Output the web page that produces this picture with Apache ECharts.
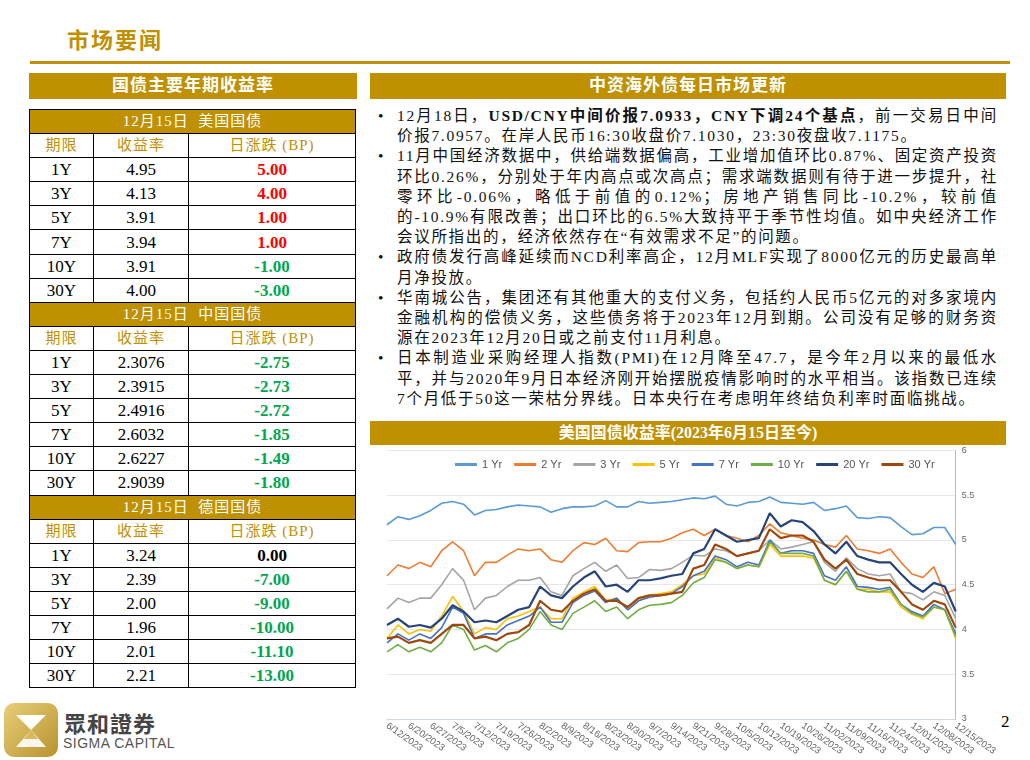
<!DOCTYPE html>
<html><head><meta charset="utf-8">
<script src="https://cdn.jsdelivr.net/npm/echarts@6/dist/echarts.min.js"></script>
<style>
body{margin:0;width:1030px;height:760px;background:#fff;position:relative;overflow:hidden;font-family:"Liberation Serif","Noto Sans CJK SC",serif;}
.abs{position:absolute;}
.gold{background:#BF9000;color:#fff;font-weight:bold;text-align:center;}
table{border-collapse:collapse;position:absolute;left:29px;top:109px;width:327px;}
tr{height:24.1px;}
td{border:1.5px solid #000;padding:0;text-align:center;font-size:17px;line-height:21px;}
td.sub{background:#BF9000;color:#fff;font-size:15px;letter-spacing:1px;}
tr.hd td{color:#BF9000;font-size:15px;letter-spacing:1px;}
.r{color:#f00;font-weight:bold;}
.g{color:#00A64F;font-weight:bold;}
.k{font-weight:bold;}
ul{margin:0;padding:0;list-style:none;}
li{position:relative;padding-left:25px;}
li:before{content:"•";position:absolute;left:6px;}
.num{letter-spacing:0;}
</style></head><body>
<div class="abs" style="left:67px;top:22px;font-size:22px;font-weight:bold;color:#BF9000;letter-spacing:2px;">市场要闻</div>
<div class="abs" style="left:30px;top:61px;width:980px;height:3px;background:#BF9000;"></div>
<div class="abs gold" style="left:29px;top:73px;width:328px;height:26px;line-height:26px;font-size:17px;letter-spacing:1px;">国债主要年期收益率</div>
<div class="abs gold" style="left:370px;top:73px;width:636px;height:26px;line-height:26px;font-size:17px;letter-spacing:1px;">中资海外债每日市场更新</div>
<div id="tbl"></div>
<div class="abs" style="left:372px;top:106px;width:626px;font-size:15.5px;line-height:20.2px;color:#111;text-align:justify;letter-spacing:1.7px;">
<ul>
<li>12月18日，<b>USD/CNY中间价报7.0933，CNY下调24个基点</b>，前一交易日中间价报7.0957。在岸人民币16:30收盘价7.1030，23:30夜盘收7.1175。</li>
<li>11月中国经济数据中，供给端数据偏高，工业增加值环比0.87%、固定资产投资环比0.26%，分别处于年内高点或次高点；需求端数据则有待于进一步提升，社零环比-0.06%，略低于前值的0.12%；房地产销售同比-10.2%，较前值的-10.9%有限改善；出口环比的6.5%大致持平于季节性均值。如中央经济工作会议所指出的，经济依然存在“有效需求不足”的问题。</li>
<li>政府债发行高峰延续而NCD利率高企，12月MLF实现了8000亿元的历史最高单月净投放。</li>
<li>华南城公告，集团还有其他重大的支付义务，包括约人民币5亿元的对多家境内金融机构的偿债义务，这些债务将于2023年12月到期。公司没有足够的财务资源在2023年12月20日或之前支付11月利息。</li>
<li>日本制造业采购经理人指数(PMI)在12月降至47.7，是今年2月以来的最低水平，并与2020年9月日本经济刚开始摆脱疫情影响时的水平相当。该指数已连续7个月低于50这一荣枯分界线。日本央行在考虑明年终结负利率时面临挑战。</li>
</ul></div>
<div class="abs gold" style="left:370px;top:421px;width:636px;height:24px;line-height:24px;font-size:16px;">美国国债收益率(2023年6月15日至今)</div>
<div id="chart" class="abs" style="left:380px;top:446px;width:620px;height:312px;"></div>
<div class="abs" style="left:1001px;top:712px;font-size:17px;">2</div>
<div class="abs" style="left:4px;top:703px;width:54px;height:54px;border-radius:10px;background:linear-gradient(135deg,#E8CF7A,#B8922E);"></div>
<svg class="abs" style="left:4px;top:703px" width="54" height="54"><polygon points="12,12 42,12 27,27" fill="#fff"/><polygon points="27,27 12,44 42,44" fill="#fff" opacity="0.9"/><polygon points="27,27 20,36 34,36" fill="#D9B95A"/></svg>
<div class="abs" style="left:64px;top:706px;font-size:22px;font-weight:bold;color:#444;font-family:'Noto Sans CJK TC';letter-spacing:1px;">眾和證券</div>
<div class="abs" style="left:63px;top:735px;font-size:14px;color:#555;font-family:'Liberation Sans';letter-spacing:0.5px;">SIGMA CAPITAL</div>
<script>
const tenors=["1Y","3Y","5Y","7Y","10Y","30Y"];
const usYield=["4.95","4.13","3.91","3.94","3.91","4.00"];
const usChg=["5.00","4.00","1.00","1.00","-1.00","-3.00"];
const cnYield=["2.3076","2.3915","2.4916","2.6032","2.6227","2.9039"];
const cnChg=["-2.75","-2.73","-2.72","-1.85","-1.49","-1.80"];
const deYield=["3.24","2.39","2.00","1.96","2.01","2.21"];
const deChg=["0.00","-7.00","-9.00","-10.00","-11.10","-13.00"];
function cls(v){const n=parseFloat(v);return n>0?"r":(n<0?"g":"k");}
function sec(title,y,c){let h=`<tr><td colspan="3" class="sub">${title}</td></tr><tr class="hd"><td>期限</td><td>收益率</td><td>日涨跌 (BP)</td></tr>`;
tenors.forEach((t,i)=>{h+=`<tr><td>${t}</td><td>${y[i]}</td><td class="${cls(c[i])}">${c[i]}</td></tr>`;});return h;}
document.getElementById("tbl").innerHTML="<table>"+sec("12月15日&nbsp;&nbsp;美国国债",usYield,usChg)+sec("12月15日&nbsp;&nbsp;中国国债",cnYield,cnChg)+sec("12月15日&nbsp;&nbsp;德国国债",deYield,deChg)+"</table>";

const labelDates=["6/12/2023","6/20/2023","6/27/2023","7/5/2023","7/12/2023","7/19/2023","7/26/2023","8/2/2023","8/9/2023","8/16/2023","8/23/2023","8/30/2023","9/7/2023","9/14/2023","9/21/2023","9/28/2023","10/5/2023","10/12/2023","10/19/2023","10/26/2023","11/02/2023","11/09/2023","11/16/2023","11/24/2023","12/01/2023","12/08/2023","12/15/2023"];
const dates=[];labelDates.forEach((d,i)=>{dates.push(d);if(i<labelDates.length-1)dates.push(d+" ");});
const names=["1 Yr","2 Yr","3 Yr","5 Yr","7 Yr","10 Yr","20 Yr","30 Yr"];
const colors=["#5B9BD5","#ED7D31","#A5A5A5","#FFC000","#4472C4","#70AD47","#264478","#9E480E"];
const y1=[5.17,5.26,5.23,5.27,5.33,5.41,5.43,5.40,5.28,5.33,5.34,5.37,5.39,5.38,5.37,5.31,5.35,5.37,5.37,5.38,5.44,5.37,5.37,5.43,5.41,5.42,5.43,5.45,5.47,5.46,5.49,5.40,5.38,5.42,5.43,5.48,5.42,5.41,5.40,5.42,5.33,5.35,5.38,5.25,5.24,5.26,5.25,5.15,5.06,5.07,5.14,5.14,4.95];
const y2=[4.60,4.72,4.68,4.75,4.70,4.88,4.98,4.88,4.60,4.75,4.75,4.83,4.90,4.88,4.90,4.78,4.75,4.88,4.97,4.95,5.02,4.88,4.87,4.97,4.98,4.98,5.02,5.08,5.12,5.05,5.12,5.05,5.02,4.98,5.05,5.18,5.08,5.05,5.02,5.00,4.95,4.92,5.05,4.90,4.88,4.85,4.90,4.75,4.62,4.58,4.70,4.40,4.45];
const y3=[4.23,4.35,4.30,4.35,4.35,4.50,4.68,4.55,4.22,4.35,4.38,4.48,4.55,4.55,4.58,4.42,4.38,4.60,4.68,4.75,4.65,4.72,4.57,4.58,4.67,4.66,4.68,4.75,4.83,4.82,4.90,4.88,4.82,4.85,4.88,5.00,4.90,4.92,4.95,4.98,4.75,4.65,4.80,4.68,4.62,4.60,4.62,4.42,4.40,4.33,4.42,4.38,4.12];
const y5=[3.90,4.05,3.95,4.00,3.98,4.15,4.37,4.20,3.95,4.02,4.00,4.12,4.15,4.20,4.25,4.12,4.12,4.35,4.42,4.48,4.32,4.35,4.22,4.32,4.38,4.40,4.42,4.50,4.60,4.62,4.80,4.75,4.68,4.72,4.70,4.95,4.82,4.82,4.82,4.80,4.55,4.50,4.65,4.45,4.45,4.42,4.42,4.25,4.17,4.12,4.25,4.22,3.90];
const y7=[3.85,3.95,3.88,3.95,3.90,4.02,4.25,4.18,3.90,3.95,3.95,4.05,4.10,4.15,4.25,4.08,4.08,4.30,4.38,4.43,4.30,4.35,4.22,4.32,4.36,4.38,4.40,4.48,4.60,4.65,4.82,4.78,4.70,4.75,4.72,5.00,4.85,4.88,4.88,4.85,4.60,4.55,4.70,4.48,4.47,4.45,4.47,4.28,4.20,4.15,4.28,4.22,3.95];
const y10=[3.75,3.83,3.75,3.80,3.75,3.85,4.05,4.00,3.77,3.82,3.75,3.85,3.90,4.00,4.20,4.05,4.00,4.18,4.25,4.32,4.20,4.25,4.12,4.22,4.27,4.28,4.30,4.38,4.52,4.58,4.78,4.75,4.68,4.72,4.70,4.98,4.85,4.85,4.85,4.82,4.55,4.50,4.65,4.45,4.42,4.42,4.45,4.28,4.18,4.14,4.25,4.22,3.92];
const y20=[4.05,4.12,4.03,4.05,4.02,4.12,4.27,4.20,4.08,4.10,4.08,4.15,4.22,4.25,4.48,4.38,4.35,4.48,4.58,4.65,4.48,4.50,4.42,4.55,4.55,4.57,4.60,4.62,4.85,4.90,5.12,5.05,4.98,5.00,5.02,5.30,5.15,5.22,5.20,5.10,4.95,4.85,4.98,4.82,4.78,4.75,4.75,4.62,4.50,4.42,4.52,4.48,4.20];
const y30=[3.90,3.92,3.85,3.88,3.85,3.95,4.05,4.05,3.90,3.92,3.88,3.95,3.97,4.05,4.32,4.22,4.20,4.32,4.40,4.45,4.32,4.32,4.25,4.35,4.38,4.38,4.40,4.42,4.68,4.72,4.95,4.90,4.82,4.85,4.88,5.12,5.02,5.05,5.05,4.98,4.78,4.68,4.78,4.62,4.58,4.55,4.55,4.42,4.28,4.22,4.32,4.28,4.02];
const all=[y1,y2,y3,y5,y7,y10,y20,y30];
const ch=echarts.init(document.getElementById("chart"));
ch.setOption({animation:false,color:colors,
legend:{top:8,left:70,itemWidth:22,itemHeight:3,itemGap:12,icon:"rect",textStyle:{fontFamily:"Liberation Sans",fontSize:11,color:"#555"},data:names},
grid:{left:7,right:43,top:4,bottom:34},
xAxis:{type:"category",data:dates,boundaryGap:false,axisLine:{lineStyle:{color:"#D0D8E0"}},axisTick:{show:false},
axisLabel:{interval:1,rotate:-35,fontSize:9.5,color:"#666",fontFamily:"Liberation Sans",formatter:v=>v.trim(),align:"left",margin:6}},
yAxis:{type:"value",position:"right",min:3,max:6,interval:0.5,axisLine:{show:true,lineStyle:{color:"#9CC3E6"}},axisTick:{show:false},
splitLine:{lineStyle:{color:"#E3E8EE"}},axisLabel:{fontSize:9,color:"#666",fontFamily:"Liberation Sans",margin:6}},
series:names.map((n,i)=>({name:n,type:"line",data:all[i],symbol:"none",lineStyle:{width:i>=6?2.2:1.6}}))});
</script></body></html>
